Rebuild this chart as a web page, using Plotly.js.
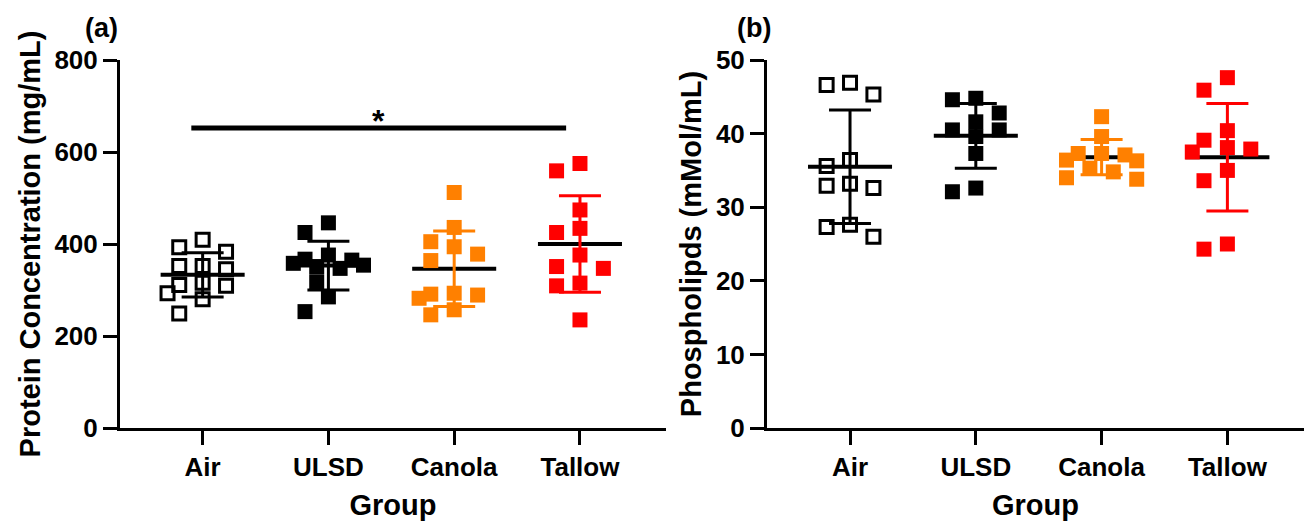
<!DOCTYPE html>
<html><head><meta charset="utf-8">
<script src="https://cdn.plot.ly/plotly-3.0.1.min.js"></script>
<style>html,body{margin:0;padding:0;background:#fff}#chart{width:1304px;height:521px}</style>
</head><body><div id="chart"></div>
<script>
// ---------- data ----------
const groups = ['Air', 'ULSD', 'Canola', 'Tallow'];
const groupColors = ['#000000', '#000000', '#FF8000', '#FF0000'];

// Panel (a): Protein concentration (mg/mL)
const proteinAir    = [409, 393, 383, 352, 352, 345, 316, 311, 309, 293, 280, 249];
const proteinULSD   = [446, 425, 376, 367, 365, 358, 354, 351, 347, 318, 285, 253];
const proteinCanola = [512, 436, 405, 394, 378, 364, 293, 291, 289, 282, 257, 246];
const proteinTallow = [575, 559, 474, 434, 425, 376, 351, 347, 315, 309, 235];
const proteinMean   = [333, 353, 346, 400];
const proteinSD     = [48, 53, 82, 105];
const proteinTicks  = [0, 200, 400, 600, 800];

// Panel (b): Phospholipids (mMol/mL)
const phosAir    = [46.9, 46.6, 45.3, 36.4, 35.6, 33.2, 32.9, 32.6, 27.6, 27.3, 26.0];
const phosULSD   = [44.8, 44.6, 42.8, 41.6, 40.5, 40.5, 39.6, 37.3, 32.6, 32.1];
const phosCanola = [42.3, 39.6, 37.3, 37.3, 37.1, 36.4, 36.3, 35.3, 34.8, 34.0, 33.8];
const phosTallow = [47.6, 45.9, 40.4, 39.1, 38.1, 37.9, 37.5, 35.0, 33.6, 25.0, 24.3];
const phosMean   = [35.5, 39.7, 36.8, 36.8];
const phosSD     = [7.7, 4.4, 2.4, 7.3];
const phosTicks  = [0, 10, 20, 30, 40, 50];

// significance bracket (panel a): Air vs Tallow
const sigFrom = 0, sigTo = 3, sigLevel = 652, sigLabel = '*';

// ---------- geometry / style ----------
const W = 1304, H = 521;
const G = {aL: 120, aR: 666, bL: 767, bR: 1304, top: 60, bottom: 428};
const xRangeA = [-0.657, 3.684];
const xRangeB = [-0.66, 3.609];
const yRangeA = [0, 800], yRangeB = [0, 50];
const FONT = 'Liberation Sans, Arial, Helvetica, sans-serif';
const MEAN_HALF = 0.334, CAP_PX = 21;

function swarm(values, center, pxPerX, pxPerY, size, stepPx, maxCol) {
  const order = values.map((v, i) => i).sort((a, b) => values[b] - values[a]);
  const placed = []; const xs = new Array(values.length);
  const cands = [0]; for (let k = 1; k <= maxCol; k++) cands.push(-k, k);
  for (const i of order) {
    const y = values[i] * pxPerY;
    let best = 0, bestPen = Infinity;
    for (const c of cands) {
      const x = c * stepPx; let pen = 0;
      for (const p of placed) {
        const ox = size - Math.abs(p.x - x), oy = size - Math.abs(p.y - y);
        if (ox > 0 && oy > 0) pen += ox * oy;
      }
      if (pen === 0) { best = c; bestPen = 0; break; }
      if (pen < bestPen) { bestPen = pen; best = c; }
    }
    placed.push({x: best * stepPx, y});
    xs[i] = center + best * stepPx / pxPerX;
  }
  return xs;
}

function panelTraces(series, means, sds, xa, ya, xr, yr, pxL, pxR) {
  const pxPerX = (pxR - pxL) / (xr[1] - xr[0]);
  const pxPerY = (G.bottom - G.top) / (yr[1] - yr[0]);
  const out = [];
  series.forEach((vals, i) => {
    out.push({type: 'scatter', mode: 'lines', xaxis: xa, yaxis: ya, hoverinfo: 'skip',
      x: [i - MEAN_HALF, i + MEAN_HALF], y: [means[i], means[i]],
      line: {color: '#000', width: 4}, showlegend: false});
    out.push({type: 'scatter', mode: 'markers', xaxis: xa, yaxis: ya, hoverinfo: 'skip',
      x: [i], y: [means[i]], marker: {color: 'rgba(0,0,0,0)', size: 1},
      error_y: {type: 'data', array: [sds[i]], visible: true, color: groupColors[i], thickness: 3, width: CAP_PX},
      showlegend: false});
  });
  series.forEach((vals, i) => {
    const open = i === 0;
    out.push({type: 'scatter', mode: 'markers', xaxis: xa, yaxis: ya,
      x: swarm(vals, i, pxPerX, pxPerY, 15, 11.7, 3), y: vals,
      marker: open ? {symbol: 'square-open', size: 13, color: groupColors[i], line: {width: 3, color: groupColors[i]}}
                   : {symbol: 'square', size: 15, color: groupColors[i], line: {width: 0}},
      showlegend: false});
  });
  return out;
}

const traces = [].concat(
  panelTraces([proteinAir, proteinULSD, proteinCanola, proteinTallow], proteinMean, proteinSD, 'x', 'y', xRangeA, yRangeA, G.aL, G.aR),
  panelTraces([phosAir, phosULSD, phosCanola, phosTallow], phosMean, phosSD, 'x2', 'y2', xRangeB, yRangeB, G.bL, G.bR)
);

const tickFont = {family: FONT, size: 26, color: '#000', weight: 700};
const titleFont = {family: FONT, size: 29, color: '#000', weight: 700};
function xAxis(dom, rng) {
  return {domain: dom, range: rng, tickmode: 'array', tickvals: [0, 1, 2, 3], ticktext: groups,
    ticks: 'outside', ticklen: 14, tickwidth: 3, tickcolor: '#000', showline: true, linewidth: 3, linecolor: '#000',
    showgrid: false, zeroline: false, tickfont: tickFont, fixedrange: true, automargin: false,
    title: {text: 'Group', font: titleFont, standoff: 15}};
}
function yAxis(dom, rng, tv, title, anchor) {
  return {domain: dom, range: rng, anchor: anchor, tickmode: 'array', tickvals: tv,
    ticks: 'outside', ticklen: 14, tickwidth: 3, tickcolor: '#000', showline: true, linewidth: 3, linecolor: '#000',
    showgrid: false, zeroline: false, tickfont: tickFont, fixedrange: true, automargin: false,
    title: {text: title, font: titleFont, standoff: 6}};
}
const yDom = [(H - G.bottom) / H, (H - G.top) / H];
const layout = {
  width: W, height: H, margin: {l: 0, r: 0, t: 0, b: 0},
  paper_bgcolor: '#fff', plot_bgcolor: '#fff', showlegend: false,
  xaxis: Object.assign(xAxis([G.aL / W, G.aR / W], xRangeA), {anchor: 'y'}),
  yaxis: yAxis(yDom, yRangeA, proteinTicks, 'Protein Concentration (mg/mL)', 'x'),
  xaxis2: Object.assign(xAxis([G.bL / W, G.bR / W], xRangeB), {anchor: 'y2'}),
  yaxis2: yAxis(yDom, yRangeB, phosTicks, 'Phospholipds (mMol/mL)', 'x2'),
  shapes: [{type: 'line', xref: 'x', yref: 'y', x0: sigFrom - 0.09, x1: sigTo - 0.11, y0: sigLevel, y1: sigLevel,
    line: {color: '#000', width: 5}}],
  annotations: [
    {text: sigLabel, xref: 'x', yref: 'y', x: (sigFrom + sigTo) / 2 - 0.1, y: sigLevel, yanchor: 'bottom', yshift: -13,
      showarrow: false, font: {family: FONT, size: 32, color: '#000', weight: 700}},
    {text: '(a)', xref: 'paper', yref: 'paper', x: 101 / W, y: (H - 28) / H, xanchor: 'center', yanchor: 'middle',
      showarrow: false, font: {family: FONT, size: 27, color: '#000', weight: 700}},
    {text: '(b)', xref: 'paper', yref: 'paper', x: 754 / W, y: (H - 28) / H, xanchor: 'center', yanchor: 'middle',
      showarrow: false, font: {family: FONT, size: 27, color: '#000', weight: 700}}
  ]
};
Plotly.newPlot('chart', traces, layout, {staticPlot: true, displayModeBar: false});
</script>
</body></html>
